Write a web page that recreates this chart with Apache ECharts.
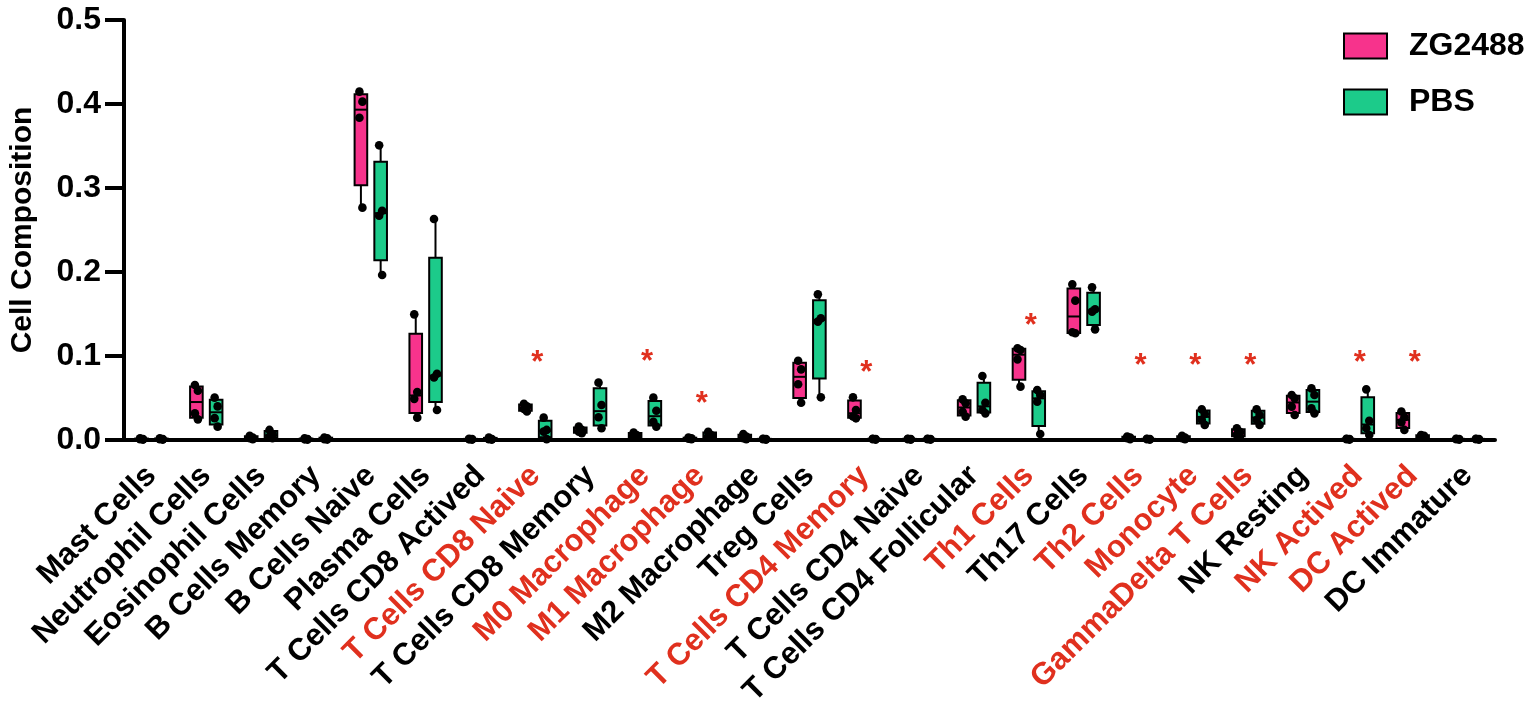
<!DOCTYPE html>
<html><head><meta charset="utf-8">
<script src="https://cdn.jsdelivr.net/npm/echarts@6/dist/echarts.min.js"></script>
<style>html,body{margin:0;padding:0;background:#fff;}#c{width:1535px;height:715px;}</style>
</head><body><div id="c"></div>
<script>
const categories = ['Mast Cells','Neutrophil Cells','Eosinophil Cells','B Cells Memory','B Cells Naive','Plasma Cells','T Cells CD8 Actived','T Cells CD8 Naive','T Cells CD8 Memory','M0 Macrophage','M1 Macrophage','M2 Macrophage','Treg Cells','T Cells CD4 Memory','T Cells CD4 Naive','T Cells CD4 Follicular','Th1 Cells','Th17 Cells','Th2 Cells','Monocyte','GammaDelta T Cells','NK Resting','NK Actived','DC Actived','DC Immature'];
const redCategories = ['T Cells CD8 Naive','M0 Macrophage','M1 Macrophage','T Cells CD4 Memory','Th1 Cells','Th2 Cells','Monocyte','GammaDelta T Cells','NK Actived','DC Actived'];
const seriesNames = ['ZG2488','PBS'];
const zgValues = [
  [0.002,0.001,0.001,0.0005],
  [0.0655,0.0587,0.0317,0.0246],
  [0.005,0.003,0.002,0.001],
  [0.002,0.001,0.0008,0.0005],
  [0.4147,0.4028,0.3837,0.2766],
  [0.1496,0.057,0.049,0.0266],
  [0.0015,0.001,0.0008,0.0005],
  [0.043,0.040,0.037,0.034],
  [0.016,0.012,0.010,0.008],
  [0.009,0.006,0.005,0.003],
  [0.003,0.002,0.0015,0.001],
  [0.007,0.004,0.002,0.001],
  [0.0944,0.0841,0.0663,0.0444],
  [0.0508,0.0357,0.028,0.0258],
  [0.0015,0.001,0.001,0.0005],
  [0.0484,0.0437,0.0337,0.0278],
  [0.1091,0.1071,0.096,0.0635],
  [0.1853,0.1659,0.1282,0.127],
  [0.004,0.003,0.002,0.001],
  [0.005,0.003,0.002,0.001],
  [0.0139,0.0099,0.006,0.004],
  [0.0536,0.0496,0.0397,0.0298],
  [0.0015,0.001,0.001,0.0005],
  [0.034,0.027,0.021,0.012],
  [0.0015,0.001,0.001,0.0005]
];
const pbsValues = [
  [0.002,0.001,0.001,0.0005],
  [0.0504,0.040,0.026,0.0159],
  [0.012,0.007,0.004,0.002],
  [0.003,0.002,0.001,0.0005],
  [0.3508,0.273,0.267,0.1964],
  [0.2631,0.0788,0.0744,0.0357],
  [0.003,0.001,0.001,0.0005],
  [0.0266,0.012,0.010,0.001],
  [0.0683,0.0417,0.027,0.0139],
  [0.0504,0.0349,0.0218,0.0159],
  [0.0099,0.006,0.004,0.003],
  [0.0015,0.001,0.001,0.0005],
  [0.1734,0.1448,0.1409,0.0508],
  [0.0015,0.001,0.001,0.0005],
  [0.0015,0.001,0.001,0.0005],
  [0.0762,0.0444,0.0357,0.0317],
  [0.0595,0.0536,0.0456,0.0071],
  [0.1817,0.1556,0.1528,0.1317],
  [0.0015,0.001,0.001,0.0005],
  [0.0365,0.031,0.024,0.018],
  [0.0365,0.0298,0.0238,0.018],
  [0.0615,0.0536,0.0377,0.0317],
  [0.0603,0.023,0.0139,0.006],
  [0.006,0.005,0.004,0.003],
  [0.0015,0.001,0.001,0.0005]
];
const starCategories = ['T Cells CD8 Naive','M0 Macrophage','M1 Macrophage','T Cells CD4 Memory','Th1 Cells','Th2 Cells','Monocyte','GammaDelta T Cells','NK Actived','DC Actived'];
const starValues = [0.100,0.101,0.051,0.088,0.143,0.096,0.096,0.096,0.100,0.100];
const yTickValues = [0,0.1,0.2,0.3,0.4,0.5];

const PINK = '#f7338c', GREEN = '#1ccb8a', RED = '#e0301e';
const FONT = '"Liberation Sans", Arial, Helvetica, sans-serif';

function quantile(sorted, p){
  const n = sorted.length;
  let pos = p*(n+1);
  if (pos < 1) pos = 1;
  if (pos > n) pos = n;
  const lo = Math.floor(pos), fr = pos - lo;
  if (lo >= n) return sorted[n-1];
  return sorted[lo-1] + fr*(sorted[lo]-sorted[lo-1]);
}
function boxStats(groups){
  return groups.map((vals,i)=>{
    const s = vals.slice().sort((a,b)=>a-b);
    return [i, s[0], quantile(s,0.25), quantile(s,0.5), quantile(s,0.75), s[s.length-1]];
  });
}
function dotData(groups){
  const out = [];
  groups.forEach((vals,i)=>{
    vals.slice().sort((a,b)=>b-a).forEach((v,k)=>out.push([i,v,k]));
  });
  return out;
}
const OFFSET = 0.18, BOXW = 0.23;
function boxRender(sign, color){
  return function(params, api){
    const i = api.value(0);
    const band = api.size([1,0])[0];
    const w = band*BOXW;
    const pMin = api.coord([i, api.value(1)]);
    const pQ1 = api.coord([i, api.value(2)]);
    const pMed = api.coord([i, api.value(3)]);
    const pQ3 = api.coord([i, api.value(4)]);
    const pMax = api.coord([i, api.value(5)]);
    const x = pMin[0] + sign*band*OFFSET;
    const ls = {stroke:'#000', lineWidth:2};
    return {type:'group', children:[
      {type:'line', shape:{x1:x,y1:pMax[1],x2:x,y2:pQ3[1]}, style:ls},
      {type:'line', shape:{x1:x,y1:pQ1[1],x2:x,y2:pMin[1]}, style:ls},
      {type:'rect', shape:{x:x-w/2,y:pQ3[1],width:w,height:Math.max(pQ1[1]-pQ3[1],0.5)}, style:{fill:color,stroke:'#000',lineWidth:2}},
      {type:'line', shape:{x1:x-w/2,y1:pMed[1],x2:x+w/2,y2:pMed[1]}, style:ls}
    ]};
  };
}
const JITTER = [-1.5, 1.5, -1.5, 1.5];
function dotRender(sign){
  return function(params, api){
    const i = api.value(0), k = api.value(2);
    const band = api.size([1,0])[0];
    const p = api.coord([i, api.value(1)]);
    return {type:'circle', shape:{cx:p[0]+sign*band*OFFSET+JITTER[k%4], cy:p[1], r:4.3}, style:{fill:'#000'}};
  };
}
function starRender(params, api){
  const p = api.coord([api.value(0), api.value(1)]);
  return {type:'text', x:p[0]+2, y:p[1]+7, style:{text:'*', fill:RED, fontSize:31, fontWeight:'bold', fontFamily:FONT, align:'center', verticalAlign:'middle'}};
}

const chart = echarts.init(document.getElementById('c'));
chart.setOption({
  animation:false,
  backgroundColor:'#fff',
  grid:{left:118, right:40, top:20, bottom:275},
  legend:{
    orient:'vertical', left:1343, top:30, padding:0, itemWidth:43, itemHeight:25, itemGap:24,
    selectedMode:false, icon:'rect',
    textStyle:{fontSize:32, fontWeight:'bold', color:'#000', fontFamily:FONT, padding:[0,0,0,17]},
    data:[
      {name:seriesNames[0], itemStyle:{color:PINK, borderColor:'#000', borderWidth:2}},
      {name:seriesNames[1], itemStyle:{color:GREEN, borderColor:'#000', borderWidth:2}}
    ]
  },
  xAxis:{
    type:'category', data:categories, boundaryGap:true,
    axisLine:{lineStyle:{color:'#000', width:4}},
    axisTick:{alignWithLabel:true, length:17, lineStyle:{color:'#000', width:4}},
    axisLabel:{
      interval:0, rotate:45, margin:31,
      formatter:(v)=> redCategories.indexOf(v)>=0 ? '{r|'+v+'}' : '{b|'+v+'}',
      rich:{
        r:{color:RED, fontSize:31, fontWeight:'bold', fontFamily:FONT},
        b:{color:'#000', fontSize:31, fontWeight:'bold', fontFamily:FONT}
      }
    }
  },
  yAxis:{
    type:'value', min:0, max:0.5, interval:0.1,
    name:'Cell Composition', nameLocation:'middle', nameGap:86,
    nameTextStyle:{fontSize:30, fontWeight:'bold', color:'#000', fontFamily:FONT},
    axisLine:{show:true, lineStyle:{color:'#000', width:4}},
    axisTick:{show:true, length:19, lineStyle:{color:'#000', width:4}},
    splitLine:{show:false},
    axisLabel:{margin:23, fontSize:32, fontWeight:'bold', color:'#000', fontFamily:FONT,
      formatter:(v)=> yTickValues.some(t=>Math.abs(t-v)<1e-9) ? v.toFixed(1) : ''}
  },
  series:[
    {name:seriesNames[0], type:'custom', renderItem:boxRender(-1,PINK), data:boxStats(zgValues), encode:{x:0,y:[1,2,3,4,5]}, itemStyle:{color:PINK, borderColor:'#000', borderWidth:2}, z:2},
    {name:seriesNames[1], type:'custom', renderItem:boxRender(1,GREEN), data:boxStats(pbsValues), encode:{x:0,y:[1,2,3,4,5]}, itemStyle:{color:GREEN, borderColor:'#000', borderWidth:2}, z:2},
    {name:'ZG2488 points', type:'custom', renderItem:dotRender(-1), data:dotData(zgValues), encode:{x:0,y:1}, z:3},
    {name:'PBS points', type:'custom', renderItem:dotRender(1), data:dotData(pbsValues), encode:{x:0,y:1}, z:3},
    {name:'significance', type:'custom', renderItem:starRender, data:starCategories.map((c,j)=>[categories.indexOf(c), starValues[j]]), encode:{x:0,y:1}, z:4}
  ]
});
</script></body></html>
